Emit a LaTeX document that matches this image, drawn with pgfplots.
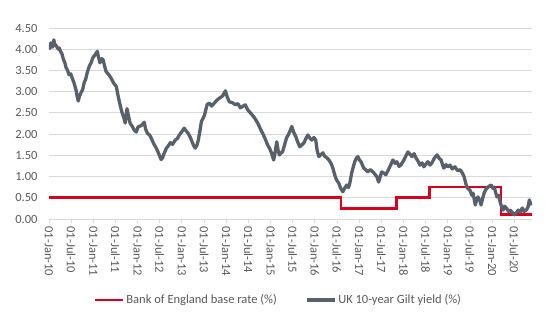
\documentclass[border=0pt]{standalone}
\usepackage{fontspec}
\setmainfont{Carlito}
\usepackage{pgfplots}
\pgfplotsset{compat=1.18}
\definecolor{boered}{RGB}{214,0,28}
\definecolor{giltgray}{RGB}{88,97,107}
\definecolor{txtgray}{RGB}{89,89,89}
\definecolor{gridgray}{RGB}{217,217,217}
\begin{document}
\begin{tikzpicture}
\useasboundingbox (-49pt,-111pt) rectangle (501pt,219pt);
\begin{axis}[
  scale only axis, width=483pt, height=191pt,
  xmin=2010, xmax=2020.9, ymin=0, ymax=4.5,
  axis x line*=bottom, axis y line*=left,
  x axis line style={-, draw=gridgray, line width=0.9pt},
  y axis line style={draw=none},
  ytick={0,0.5,1,1.5,2,2.5,3,3.5,4,4.5},
  ymajorgrids, grid style={gridgray, line width=0.9pt},
  ytick style={draw=none},
  yticklabel style={font=\fontsize{12.5}{14}\selectfont, color=txtgray, xshift=-4pt},
  /pgf/number format/.cd, fixed, fixed zerofill, precision=2, assume math mode=true,
  /pgfplots/.cd,
  xtick={2010,2010.5,2011,2011.5,2012,2012.5,2013,2013.5,2014,2014.5,2015,2015.5,2016,2016.5,2017,2017.5,2018,2018.5,2019,2019.5,2020,2020.5},
  xticklabels={01-Jan-10,01-Jul-10,01-Jan-11,01-Jul-11,01-Jan-12,01-Jul-12,01-Jan-13,01-Jul-13,01-Jan-14,01-Jul-14,01-Jan-15,01-Jul-15,01-Jan-16,01-Jul-16,01-Jan-17,01-Jul-17,01-Jan-18,01-Jul-18,01-Jan-19,01-Jul-19,01-Jan-20,01-Jul-20},
  xticklabel style={font=\fontsize{12.5}{14}\selectfont, color=txtgray, rotate=-90, anchor=west},
  tick align=outside, major tick length=4pt,
  xtick style={draw=gridgray, line width=0.9pt},
  legend columns=2,
  legend style={at={(0.475,-0.424)}, anchor=center, draw=none, fill=none,
    font=\fontsize{12.5}{14}\selectfont, text=txtgray,
    /tikz/every even column/.append style={column sep=26pt}},
  legend image code/.code={\draw[#1] (0pt,0pt) -- (28pt,0pt);},
  legend cell align=left,
]
\addplot[boered, line width=2.6pt, const plot, line join=miter] coordinates {
(2010.00,0.50) (2016.59,0.25) (2017.84,0.50) (2018.59,0.75) (2020.20,0.10) (2020.89,0.10)
};
\addlegendentry{Bank of England base rate (\%)}
\addplot[giltgray, line width=3.3pt, line join=round] coordinates {
(2010.00,4.08) (2010.02,4.02) (2010.04,4.15) (2010.06,4.08) (2010.08,4.05) (2010.11,4.22) (2010.13,4.12) (2010.15,4.10) (2010.18,4.05)
(2010.21,4.00) (2010.23,4.03) (2010.26,3.95) (2010.29,3.90) (2010.31,3.82) (2010.33,3.75) (2010.36,3.68) (2010.38,3.58) (2010.42,3.50) (2010.45,3.40) (2010.49,3.42) (2010.52,3.33)
(2010.56,3.22) (2010.61,3.04) (2010.63,2.92) (2010.66,2.78) (2010.69,2.90) (2010.72,2.97) (2010.76,3.05) (2010.79,3.20) (2010.83,3.30) (2010.86,3.44) (2010.91,3.60) (2010.95,3.68)
(2010.99,3.80) (2011.04,3.87) (2011.09,3.95) (2011.12,3.80) (2011.15,3.68) (2011.19,3.78) (2011.22,3.75) (2011.26,3.58) (2011.29,3.47) (2011.35,3.40) (2011.40,3.32)
(2011.46,3.20) (2011.52,3.12) (2011.55,2.95) (2011.58,2.80) (2011.62,2.62) (2011.65,2.50) (2011.69,2.38) (2011.72,2.26) (2011.76,2.60) (2011.80,2.40) (2011.83,2.26)
(2011.88,2.18) (2011.92,2.10) (2011.97,2.05) (2012.01,2.17) (2012.08,2.20) (2012.15,2.28) (2012.18,2.12) (2012.22,2.02) (2012.27,1.98) (2012.31,1.90) (2012.36,1.78) (2012.42,1.67)
(2012.46,1.58) (2012.49,1.50) (2012.53,1.40) (2012.56,1.44) (2012.60,1.55) (2012.65,1.67) (2012.69,1.72) (2012.74,1.80) (2012.79,1.76) (2012.85,1.86) (2012.90,1.90) (2012.94,1.98)
(2013.00,2.06) (2013.05,2.14) (2013.09,2.08) (2013.14,2.02) (2013.19,1.92) (2013.24,1.79) (2013.27,1.72) (2013.30,1.67) (2013.34,1.74) (2013.37,1.86) (2013.41,2.10) (2013.44,2.30)
(2013.48,2.38) (2013.51,2.45) (2013.54,2.58) (2013.57,2.70) (2013.62,2.73) (2013.67,2.66) (2013.73,2.73) (2013.79,2.80) (2013.85,2.85) (2013.92,2.90) (2013.98,3.02)
(2014.02,2.88) (2014.07,2.76) (2014.14,2.74) (2014.21,2.69) (2014.26,2.72) (2014.32,2.62) (2014.38,2.66) (2014.43,2.69) (2014.48,2.58) (2014.52,2.53) (2014.58,2.46) (2014.64,2.38)
(2014.70,2.28) (2014.75,2.17) (2014.80,2.06) (2014.84,1.98) (2014.89,1.86) (2014.93,1.75) (2014.98,1.66) (2015.02,1.56) (2015.05,1.46) (2015.07,1.39) (2015.10,1.55) (2015.14,1.82)
(2015.17,1.62) (2015.20,1.51) (2015.24,1.56) (2015.27,1.58) (2015.32,1.76) (2015.36,1.91) (2015.40,1.98) (2015.43,2.05) (2015.48,2.18) (2015.52,2.05) (2015.57,1.94)
(2015.61,1.82) (2015.66,1.70) (2015.70,1.74) (2015.75,1.79) (2015.80,1.90) (2015.84,1.98) (2015.89,1.90) (2015.93,1.86) (2015.98,1.92) (2016.02,1.86) (2016.05,1.62) (2016.09,1.47)
(2016.14,1.52) (2016.18,1.56) (2016.22,1.48) (2016.27,1.44) (2016.31,1.40) (2016.36,1.32) (2016.40,1.22) (2016.43,1.11) (2016.46,1.00) (2016.49,0.92) (2016.54,0.84) (2016.58,0.73)
(2016.63,0.64) (2016.68,0.74) (2016.72,0.80) (2016.76,0.74) (2016.79,0.85) (2016.83,1.08) (2016.87,1.24) (2016.90,1.35) (2016.94,1.44) (2016.97,1.47)
(2017.00,1.40) (2017.04,1.35) (2017.07,1.28) (2017.10,1.20) (2017.15,1.16) (2017.19,1.11) (2017.25,1.16) (2017.31,1.11) (2017.36,1.05) (2017.40,0.99) (2017.44,0.87)
(2017.48,1.02) (2017.51,1.11) (2017.56,1.08) (2017.60,1.04) (2017.65,1.14) (2017.69,1.23) (2017.73,1.32) (2017.76,1.39) (2017.81,1.31) (2017.85,1.35) (2017.90,1.24) (2017.94,1.27)
(2018.01,1.39) (2018.06,1.50) (2018.10,1.58) (2018.15,1.52) (2018.19,1.47) (2018.24,1.54) (2018.28,1.44) (2018.33,1.36) (2018.37,1.27) (2018.42,1.32) (2018.46,1.23)
(2018.51,1.30) (2018.55,1.35) (2018.60,1.27) (2018.64,1.32) (2018.70,1.44) (2018.76,1.51) (2018.81,1.42) (2018.85,1.39) (2018.88,1.28) (2018.91,1.20) (2018.96,1.28) (2019.00,1.23)
(2019.05,1.27) (2019.10,1.18) (2019.16,1.23) (2019.22,1.14) (2019.28,1.16) (2019.33,1.08) (2019.37,0.99) (2019.40,0.86) (2019.43,0.75) (2019.47,0.70) (2019.50,0.68)
(2019.54,0.56) (2019.57,0.61) (2019.62,0.33) (2019.65,0.45) (2019.68,0.52) (2019.72,0.44) (2019.75,0.33) (2019.79,0.50) (2019.82,0.61) (2019.86,0.70) (2019.89,0.73)
(2019.94,0.78) (2019.98,0.80) (2020.02,0.72) (2020.05,0.75) (2020.08,0.62) (2020.11,0.52) (2020.15,0.56) (2020.18,0.40) (2020.21,0.30) (2020.25,0.21) (2020.28,0.30) (2020.32,0.26)
(2020.37,0.18) (2020.41,0.21) (2020.46,0.15) (2020.50,0.10) (2020.55,0.15) (2020.59,0.21) (2020.64,0.16) (2020.68,0.26) (2020.72,0.18) (2020.77,0.21) (2020.81,0.28) (2020.84,0.45)
(2020.88,0.32)
};
\addlegendentry{UK 10-year Gilt yield (\%)}
\end{axis}
\end{tikzpicture}
\end{document}
